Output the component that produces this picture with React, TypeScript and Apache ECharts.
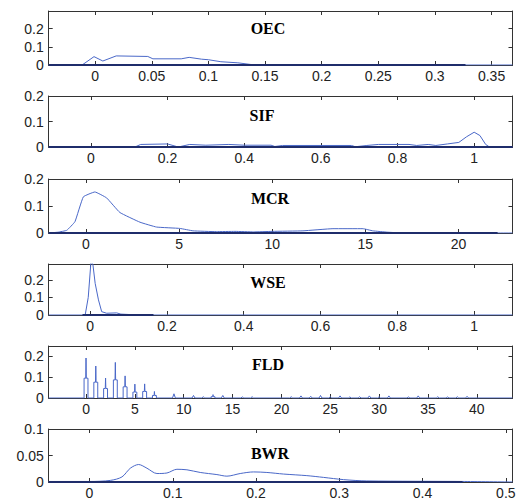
import React, { useEffect, useRef } from 'react';
import * as echarts from 'echarts';

// ---------- data ----------
const TITLES = ['OEC', 'SIF', 'MCR', 'WSE', 'FLD', 'BWR'];

const OEC_X = [-0.041, -0.0115, -0.001, 0.0068, 0.0186, 0.0465, 0.051, 0.076, 0.083, 0.094, 0.1, 0.111, 0.126, 0.136, 0.141, 0.3685];
const OEC_Y = [0, 0, 0.046, 0.022, 0.05, 0.047, 0.034, 0.034, 0.042, 0.032, 0.029, 0.018, 0.012, 0.004, 0, 0];
const OEC_XTICKS = [0, 0.05, 0.1, 0.15, 0.2, 0.25, 0.3, 0.35];
const OEC_YTICKS = [0, 0.1, 0.2];

const SIF_X = [-0.11, 0.115, 0.13, 0.2, 0.228, 0.258, 0.3, 0.36, 0.4, 0.47, 0.48, 0.5, 0.68, 0.69, 0.72, 0.75, 0.83, 0.85, 0.88, 0.9, 0.93, 0.96, 0.98, 1.0, 1.015, 1.03, 1.04, 1.1];
const SIF_Y = [0, 0, 0.01, 0.012, 0, 0.01, 0.007, 0.01, 0.007, 0.007, 0.002, 0.006, 0.006, 0.001, 0.006, 0.01, 0.01, 0.006, 0.01, 0.006, 0.012, 0.018, 0.04, 0.058, 0.045, 0.01, 0, 0];
const SIF_XTICKS = [0, 0.2, 0.4, 0.6, 0.8, 1];
const SIF_YTICKS = [0, 0.1, 0.2];

const MCR_X = [-2, -1.5, -1.03, -0.59, -0.14, 0.48, 1.11, 1.82, 2.9, 3.79, 5.04, 5.75, 7, 8, 9, 10, 11.65, 13.26, 14.87, 15.4, 16.2, 17, 22.9];
const MCR_Y = [0, 0.003, 0.01, 0.042, 0.134, 0.152, 0.13, 0.076, 0.04, 0.022, 0.017, 0.008, 0.005, 0.006, 0.004, 0.006, 0.008, 0.016, 0.016, 0.008, 0.003, 0, 0];
const MCR_XTICKS = [0, 5, 10, 15, 20];
const MCR_YTICKS = [0, 0.1, 0.2];

const WSE_X = [-0.108, -0.013, -0.005, 0.002, 0.007, 0.013, 0.0216, 0.03, 0.043, 0.069, 0.08, 0.1, 0.165, 1.1];
const WSE_Y = [0, 0, 0.1, 0.3, 0.29, 0.18, 0.086, 0.019, 0.01, 0.012, 0.005, 0.003, 0, 0];
const WSE_XTICKS = [0, 0.2, 0.4, 0.6, 0.8, 1];
const WSE_YTICKS = [0, 0.1, 0.2];

// FLD: peak height and shoulder height at each integer value
const FLD_K = [0, 1, 2, 3, 4, 5, 6, 7, 9, 11, 12, 13, 14, 16, 17, 21, 22, 23, 24, 25, 26, 27, 28, 29, 30, 31, 33, 34, 36, 37, 38, 39];
const FLD_PEAK = [0.19, 0.152, 0.095, 0.169, 0.105, 0.066, 0.067, 0.031, 0.02, 0.012, 0.006, 0.016, 0.012, 0.005, 0.006, 0.006, 0.01, 0.008, 0.012, 0.006, 0.01, 0.005, 0.006, 0.01, 0.006, 0.01, 0.005, 0.01, 0.006, 0.005, 0.006, 0.008];
const FLD_BOX = [0.094, 0.075, 0.045, 0.086, 0.053, 0.028, 0.031, 0.012, 0, 0, 0, 0.006, 0, 0, 0, 0, 0, 0, 0, 0, 0, 0, 0, 0, 0, 0, 0, 0, 0, 0, 0, 0];
const FLD_XTICKS = [0, 5, 10, 15, 20, 25, 30, 35, 40];
const FLD_YTICKS = [0, 0.1, 0.2];

const BWR_X = [-0.049, 0.0, 0.025, 0.039, 0.049, 0.059, 0.069, 0.081, 0.093, 0.105, 0.117, 0.133, 0.153, 0.165, 0.181, 0.197, 0.213, 0.233, 0.261, 0.281, 0.305, 0.333, 0.45, 0.508];
const BWR_Y = [0.001, 0.001, 0.003, 0.0096, 0.026, 0.033, 0.026, 0.016, 0.017, 0.024, 0.023, 0.018, 0.014, 0.011, 0.016, 0.019, 0.018, 0.015, 0.012, 0.0087, 0.0045, 0.002, 0.001, 0];
const BWR_XTICKS = [0, 0.1, 0.2, 0.3, 0.4, 0.5];
const BWR_YTICKS = [0, 0.05, 0.1];

// axis ranges
const X_RANGES = [[-0.041, 0.3685], [-0.11, 1.1], [-2, 22.9], [-0.108, 1.1], [-3.82, 43.65], [-0.049, 0.508]];
const Y_MAX = [0.297, 0.2, 0.2, 0.29, 0.247, 0.1];
// extent of the dark zero-level segment in each panel (null = none)
const ZERO_SEG: (number[] | null)[] = [[-0.041, 0.327], [-0.11, 1.1], [-2, 22.1], [-0.02, 0.165], null, [-0.049, 0.448]];

function fldLine(): number[][] {
  const pts: number[][] = [[X_RANGES[4][0], 0]];
  FLD_K.forEach((k, i) => {
    const h = FLD_PEAK[i];
    const b = FLD_BOX[i];
    if (b > 0) {
      pts.push([k - 0.2, 0], [k - 0.2, b], [k - 0.03, b], [k, h], [k + 0.03, b], [k + 0.2, b], [k + 0.2, 0]);
    } else {
      pts.push([k - 0.15, 0], [k, h], [k + 0.15, 0]);
    }
  });
  pts.push([X_RANGES[4][1], 0]);
  return pts;
}

const zip = (xs: number[], ys: number[]) => xs.map((x, i) => [x, ys[i]]);

export default function App() {
  const ref = useRef<HTMLDivElement>(null);
  useEffect(() => {
    const chart = echarts.init(ref.current!, null, { renderer: 'svg' });

    const LAYOUT = [
      { top: 11, h: 54, ty: 28 },
      { top: 96, h: 51, ty: 115 },
      { top: 179, h: 54, ty: 198 },
      { top: 264, h: 51, ty: 282 },
      { top: 346, h: 52, ty: 364 },
      { top: 429, h: 53, ty: 453 },
    ];
    const TITLE_X = [268, 262, 270, 268, 268, 270];
    const XT = [OEC_XTICKS, SIF_XTICKS, MCR_XTICKS, WSE_XTICKS, FLD_XTICKS, BWR_XTICKS];
    const YT = [OEC_YTICKS, SIF_YTICKS, MCR_YTICKS, WSE_YTICKS, FLD_YTICKS, BWR_YTICKS];
    const CURVES = [
      zip(OEC_X, OEC_Y),
      zip(SIF_X, SIF_Y),
      zip(MCR_X, MCR_Y),
      zip(WSE_X, WSE_Y),
      fldLine(),
      zip(BWR_X, BWR_Y),
    ];
    const SMOOTH = [0, 0, 0.1, 0, 0, 0.3];

    const axisColor = '#333333';
    const labelStyle = { color: '#222222', fontSize: 14, fontFamily: 'Liberation Sans, Arial, sans-serif' };

    const grid: any[] = [];
    const xAxis: any[] = [];
    const yAxis: any[] = [];
    const series: any[] = [];
    const graphic: any[] = [];

    LAYOUT.forEach((L, i) => {
      grid.push({ left: 48.7, right: 6.5, top: L.top, height: L.h, containLabel: false });
      const common = {
        type: 'value',
        gridIndex: i,
        splitLine: { show: false },
        axisLine: { show: true, onZero: false, lineStyle: { color: axisColor, width: 1 } },
      };
      xAxis.push({
        ...common,
        position: 'bottom',
        min: X_RANGES[i][0],
        max: X_RANGES[i][1],
        axisTick: { show: true, inside: true, length: 4, customValues: XT[i], lineStyle: { color: axisColor } },
        axisLabel: { show: true, margin: 4, customValues: XT[i], ...labelStyle },
      });
      xAxis.push({
        ...common,
        position: 'top',
        min: X_RANGES[i][0],
        max: X_RANGES[i][1],
        axisTick: { show: true, inside: true, length: 4, customValues: XT[i], lineStyle: { color: axisColor } },
        axisLabel: { show: false },
      });
      yAxis.push({
        ...common,
        position: 'left',
        min: 0,
        max: Y_MAX[i],
        axisTick: { show: true, inside: true, length: 4, customValues: YT[i], lineStyle: { color: axisColor } },
        axisLabel: { show: true, margin: 5, customValues: YT[i], ...labelStyle },
      });
      yAxis.push({
        ...common,
        position: 'right',
        min: 0,
        max: Y_MAX[i],
        axisTick: { show: true, inside: true, length: 4, customValues: YT[i], lineStyle: { color: axisColor } },
        axisLabel: { show: false },
      });

      series.push({
        type: 'line',
        xAxisIndex: 2 * i,
        yAxisIndex: 2 * i,
        data: CURVES[i],
        showSymbol: false,
        smooth: SMOOTH[i],
        clip: true,
        lineStyle: { color: '#4a68c8', width: 1 },
        z: 2,
      });
      const seg = ZERO_SEG[i];
      if (seg) {
        series.push({
          type: 'line',
          xAxisIndex: 2 * i,
          yAxisIndex: 2 * i,
          data: [[seg[0], 0], [seg[1], 0]],
          showSymbol: false,
          clip: false,
          lineStyle: { color: '#1f2d6b', width: 1.8 },
          z: 3,
        });
      }
      graphic.push({
        type: 'text',
        x: TITLE_X[i],
        y: L.ty,
        style: {
          text: TITLES[i],
          font: 'bold 16px "Liberation Serif", "Times New Roman", serif',
          fill: '#000',
          textAlign: 'center',
          textVerticalAlign: 'middle',
        },
        z: 10,
      });
    });

    chart.setOption({
      animation: false,
      backgroundColor: '#ffffff',
      grid,
      xAxis,
      yAxis,
      series,
      graphic,
    });
    return () => chart.dispose();
  }, []);
  return (
    <div
      ref={ref}
      style={{ position: 'fixed', left: 0, top: 0, width: 519, height: 504, background: '#fff' }}
    />
  );
}
